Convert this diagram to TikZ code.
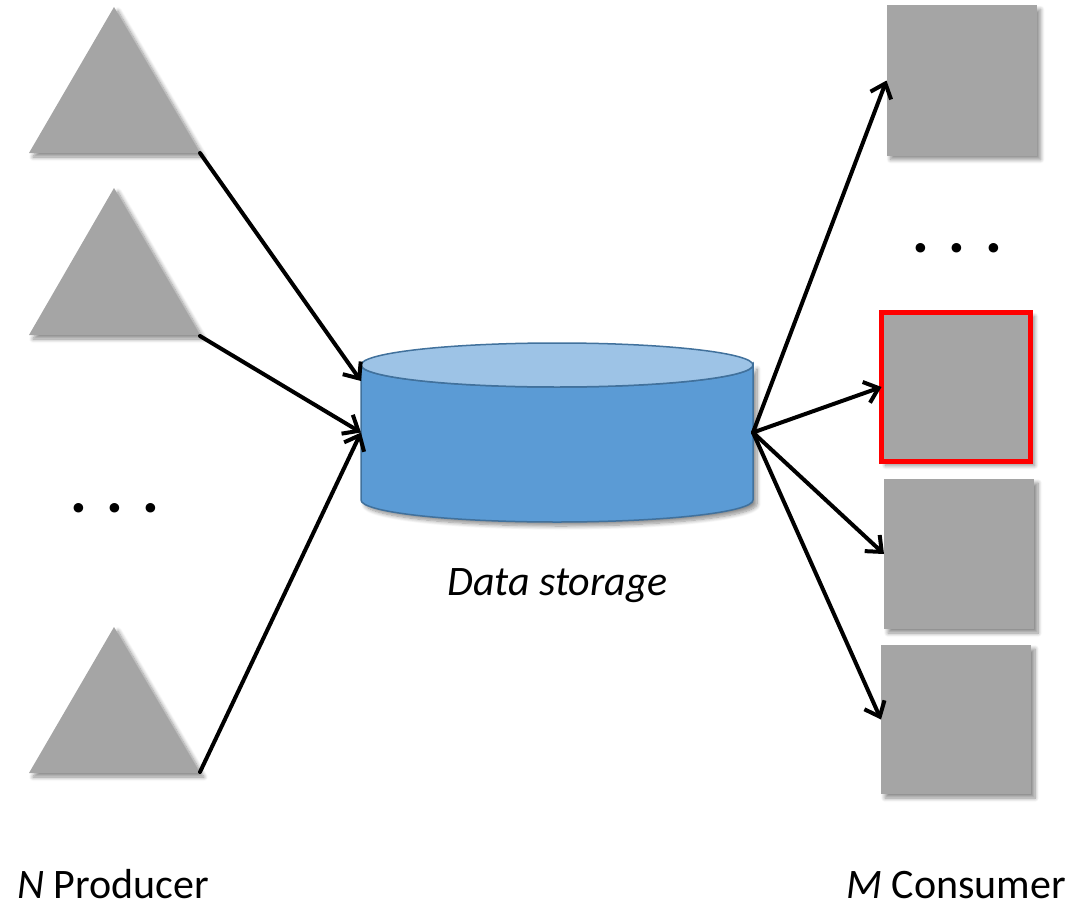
\documentclass[tikz,border=0pt]{standalone}
\usepackage{fontspec}
\setmainfont{Carlito}
\usetikzlibrary{arrows.meta,shadows.blur}

\definecolor{shapegray}{HTML}{A5A5A5}
\definecolor{dbbody}{HTML}{5B9BD5}
\definecolor{dbtop}{HTML}{9DC3E6}
\definecolor{dbline}{HTML}{41719C}
\definecolor{hilite}{HTML}{FF0000}

\begin{document}
\begin{tikzpicture}[x=1pt,y=-1pt,
  softshadow/.style={blur shadow={shadow xshift=4pt,shadow yshift=-4pt,
      shadow blur radius=4pt,shadow blur steps=8,shadow opacity=45}},
  producer/.style={fill=shapegray,softshadow},
  consumer/.style={rectangle,fill=shapegray,inner sep=0pt,outer sep=0pt,
      minimum width=150pt,minimum height=150pt,softshadow},
  flow/.style={-{Straight Barb[length=13pt,width=22pt]},line width=4pt,
      line cap=round,line join=round},
  txt/.style={inner sep=0pt,font=\fontsize{42}{42}\selectfont},
  dotmark/.style={inner sep=0pt,anchor=base,font=\fontsize{64}{64}\selectfont\bfseries\itshape},
]
\useasboundingbox (0,0) rectangle (1073,907);

% producers
\fill[producer] (114,7) -- (200,153) -- (29,153) -- cycle;
\fill[producer] (114,188) -- (200,335) -- (29,335) -- cycle;
\fill[producer] (114,627) -- (200,773) -- (29,773) -- cycle;
\coordinate (p1) at (200,153);
\coordinate (p2) at (200,336);
\coordinate (p3) at (200,772);

% data storage cylinder
\path[fill=dbbody,draw=dbline,line width=1.5pt,softshadow]
  (361,365) -- (361,500)
  arc[start angle=180,end angle=0,x radius=196,y radius=22]
  -- (753,365)
  arc[start angle=0,end angle=180,x radius=196,y radius=22] -- cycle;
\path[fill=dbtop,draw=dbline,line width=1.5pt]
  (557,365) ellipse[x radius=196,y radius=22];
\node[inner sep=0pt,outer sep=0pt,minimum width=392pt,minimum height=179pt]
  (db) at (557,432.5) {};
\coordinate (dbin) at (361,381);

% consumers
\node[consumer] (c1) at (961.5,80.5) {};
\node[consumer,draw=hilite,line width=5pt,minimum width=149pt,minimum height=149pt]
  (c2) at (956,387) {};
\node[consumer] (c3) at (959,554) {};
\node[consumer,minimum height=149pt] (c4) at (956,719.5) {};

% flows
\draw[flow] (p1) -- (dbin);
\draw[flow] (p2) -- (db.west);
\draw[flow] (p3) -- (db.west);
\draw[flow] (db.east) -- (c1.west);
\draw[flow] (db.east) -- (c2.west);
\draw[flow] (db.east) -- (c3.west);
\draw[flow] (db.east) -- (c4.west);

% ellipsis marks
\node[dotmark] (ld1) at (80,512) {.};
\node[dotmark] (ld2) at (116,512) {.};
\node[dotmark] (ld3) at (152,512) {.};
\node[dotmark] (rd1) at (922,252) {.};
\node[dotmark] (rd2) at (958,252) {.};
\node[dotmark] (rd3) at (995,252) {.};

% labels
\node[txt,anchor=base] (dslabel) at (557.5,595) {\itshape Data storage};
\node[txt,anchor=base west] (nlabel) at (17,898) {\textit{N} Producer};
\node[txt,anchor=base west] (mlabel) at (846,898) {\textit{M} Consumer};
\end{tikzpicture}
\end{document}
